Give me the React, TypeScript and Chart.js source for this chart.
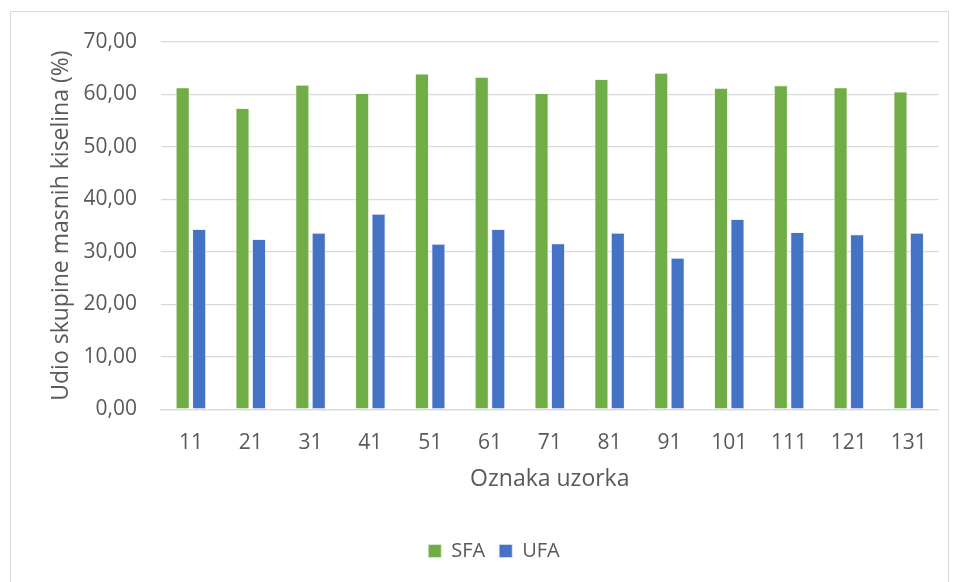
import React, { useEffect, useRef } from "react";
import { Chart, registerables } from "chart.js";

Chart.register(...registerables);

const categories = ["11", "21", "31", "41", "51", "61", "71", "81", "91", "101", "111", "121", "131"];
const sfaValues = [61.3, 57.35, 61.8, 60.2, 63.95, 63.3, 60.2, 62.9, 64.1, 61.2, 61.7, 61.3, 60.5];
const ufaValues = [34.3, 32.4, 33.6, 37.2, 31.5, 34.3, 31.6, 33.6, 28.8, 36.2, 33.7, 33.3, 33.6];
const seriesNames = ["SFA", "UFA"];
const yTitle = "Udio skupine masnih kiselina (%)";
const xTitle = "Oznaka uzorka";

const FONT = "'Open Sans', sans-serif";
const TEXT = "#595959";
const GRID = "#d9d9d9";

export default function App() {
  const ref = useRef<HTMLCanvasElement | null>(null);
  useEffect(() => {
    if (!ref.current) return;
    const chart = new Chart(ref.current, {
      type: "bar",
      data: {
        labels: categories,
        datasets: [
          {
            label: seriesNames[0],
            data: sfaValues,
            backgroundColor: "#70ad47",
            borderColor: "#e2f0d9",
            borderWidth: 0.7,
            barPercentage: 0.82,
            categoryPercentage: 0.55,
          },
          {
            label: seriesNames[1],
            data: ufaValues,
            backgroundColor: "#4472c4",
            borderColor: "#dae3f3",
            borderWidth: 0.7,
            barPercentage: 0.82,
            categoryPercentage: 0.55,
          },
        ],
      },
      options: {
        animation: false,
        responsive: false,
        maintainAspectRatio: false,
        layout: { padding: { left: 37, right: 8, top: 30, bottom: 4 } },
        plugins: {
          tooltip: { enabled: false },
          legend: {
            position: "bottom",
            labels: {
              color: TEXT,
              font: { family: FONT, size: 20 },
              boxWidth: 13,
              boxHeight: 13,
              padding: 14,
            },
          },
        },
        scales: {
          x: {
            grid: { display: false, drawTicks: false },
            border: { display: true, color: GRID, width: 1.3 },
            ticks: { color: TEXT, font: { family: FONT, size: 21 }, padding: 21 },
            title: {
              display: true,
              text: xTitle,
              color: TEXT,
              font: { family: FONT, size: 23 },
              padding: { top: -11, bottom: 34 },
            },
          },
          y: {
            min: 0,
            max: 70,
            afterFit: (axis: any) => {
              axis.width = 113;
              axis.paddingTop = 0;
              axis.paddingBottom = 0;
            },
            grid: { color: GRID, lineWidth: 1.3, drawTicks: false },
            border: { display: false },
            ticks: {
              stepSize: 10,
              color: TEXT,
              font: { family: FONT, size: 21 },
              padding: 24,
              callback: (v: any) => Number(v).toFixed(2).replace(".", ","),
            },
            title: {
              display: true,
              text: yTitle,
              color: TEXT,
              font: { family: FONT, size: 23 },
              padding: { top: 0, bottom: 0 },
            },
          },
        },
      },
    });
    return () => chart.destroy();
  }, []);
  return (
    <div
      style={{
        marginLeft: 2,
        marginTop: 3,
        width: 939,
        height: 600,
        border: "1px solid #d9d9d9",
        position: "relative",
        boxSizing: "border-box",
      }}
    >
      <canvas ref={ref} width={937} height={563} style={{ display: "block" }} />
    </div>
  );
}
